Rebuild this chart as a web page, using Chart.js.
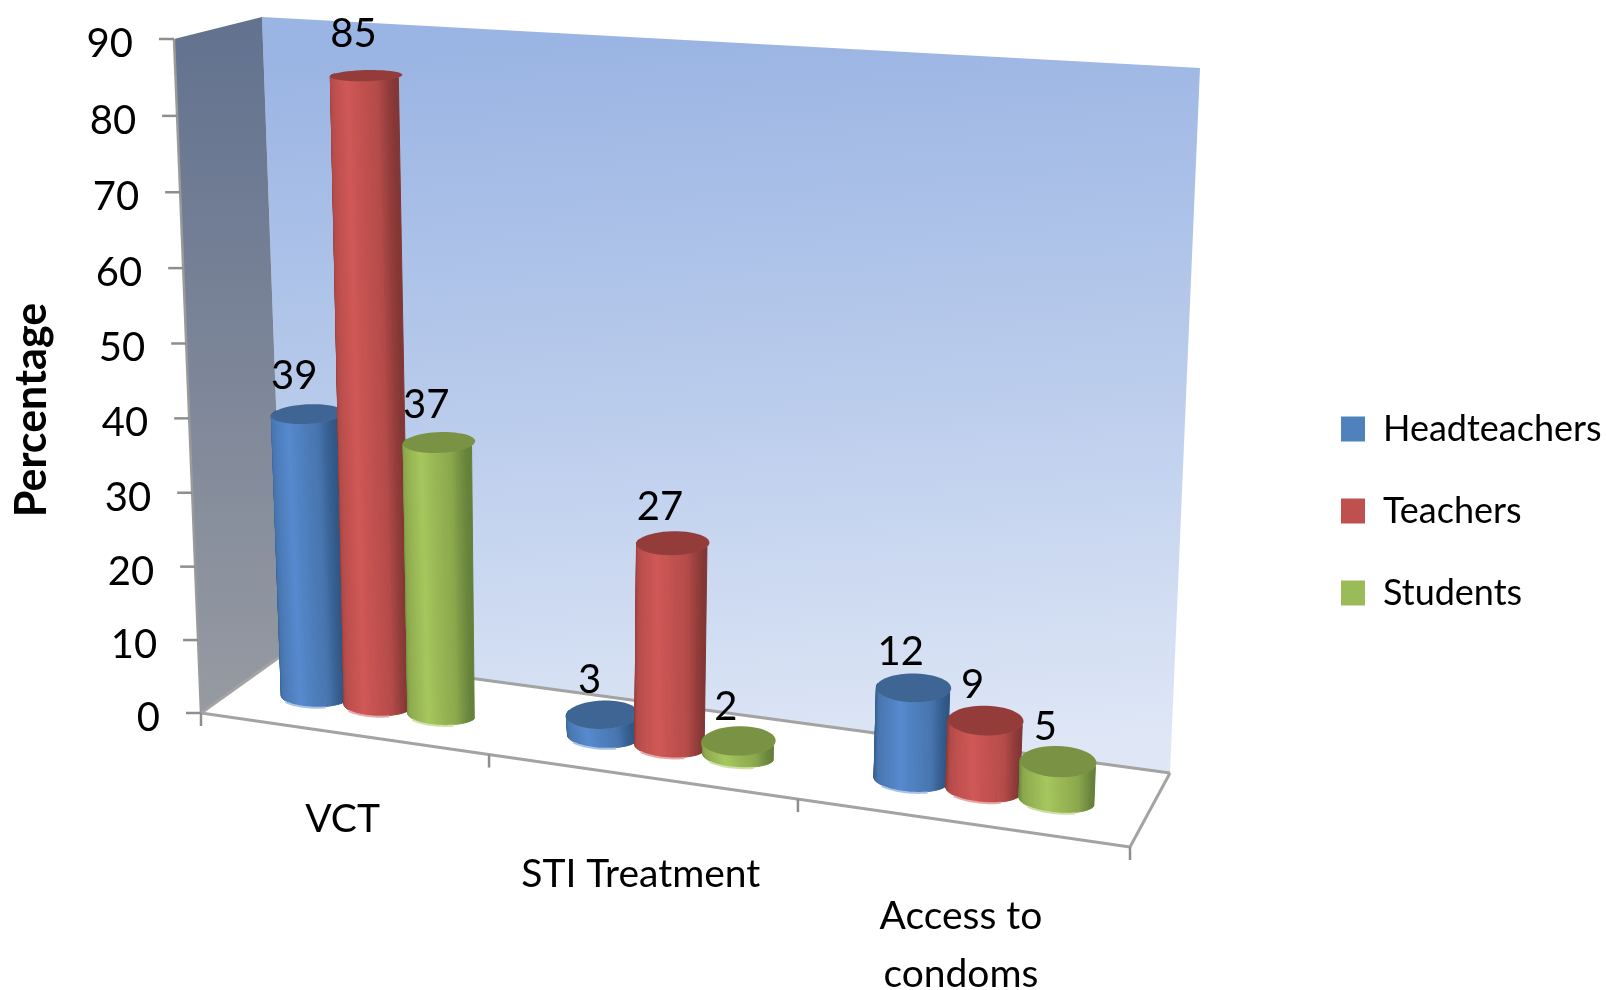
<!DOCTYPE html>
<html>
<head>
<meta charset="utf-8">
<title>Percentage by service</title>
<script src="https://cdn.jsdelivr.net/npm/chart.js@4"></script>
<style>
  html, body { margin: 0; padding: 0; background: #fff; }
  canvas { display: block; }
</style>
</head>
<body>
<canvas id="serviceChart" width="1606" height="990"></canvas>
<script>
const categories = ['VCT', 'STI Treatment', ['Access to', 'condoms']];
const seriesNames = ['Headteachers', 'Teachers', 'Students'];
const headteachers = [39, 3, 12];
const teachers = [85, 27, 9];
const students = [37, 2, 5];
const seriesColors = ['#4F81BD', '#C0504D', '#9BBB59'];

// edge, mid, highlight, lid, rim
const shades = [
  ['#2F5583', '#4775AE', '#5689CE', '#3E6594', '#A9C3E4'],
  ['#833634', '#B54B49', '#D05856', '#943C3A', '#E4A9A8'],
  ['#64803A', '#8BA84C', '#A6C65D', '#7A9243', '#CFDFA8']
];

const fontFamily = 'Lato, "Open Sans", sans-serif';

// screen corners of the plot box: front-left, front-right, back-right, back-left
const floorQuad = [[201, 713], [1130, 847], [1170, 773], [285, 653]];
const ceilQuad = [[174, 39], [1166, 95], [1200, 68], [262, 17]];
const heightWarp = 0.03;
const barDepth = 0.44;
const footRadius = 0.15;
const lidRadius = 0.21;
const topTaper = 0.08;
const xLabelDrop = [86, 98, 94];

// unit square to quad homography
function quadMap(q) {
  const [[x0, y0], [x1, y1], [x2, y2], [x3, y3]] = q;
  const dx1 = x1 - x2, dx2 = x3 - x2, sx = x0 - x1 + x2 - x3;
  const dy1 = y1 - y2, dy2 = y3 - y2, sy = y0 - y1 + y2 - y3;
  const den = dx1 * dy2 - dx2 * dy1;
  const g = (sx * dy2 - dx2 * sy) / den;
  const h = (dx1 * sy - sx * dy1) / den;
  const a = x1 - x0 + g * x1, b = x3 - x0 + h * x3;
  const d = y1 - y0 + g * y1, e = y3 - y0 + h * y3;
  return (u, v) => {
    const w = g * u + h * v + 1;
    return [(a * u + b * v + x0) / w, (d * u + e * v + y0) / w];
  };
}
const floorMap = quadMap(floorQuad);
const ceilMap = quadMap(ceilQuad);

// u across the axis, d into the depth, t up the value axis, all 0..1
function project(u, d, t) {
  const tt = t / (1 + heightWarp * (1 - t));
  const f = floorMap(u, d);
  const c = ceilMap(u, d);
  return [f[0] + (c[0] - f[0]) * tt, f[1] + (c[1] - f[1]) * tt];
}

function polygon(ctx, pts) {
  ctx.beginPath();
  pts.forEach((p, i) => i ? ctx.lineTo(p[0], p[1]) : ctx.moveTo(p[0], p[1]));
  ctx.closePath();
}

function line(ctx, a, b, color, width) {
  ctx.strokeStyle = color;
  ctx.lineWidth = width;
  ctx.beginPath();
  ctx.moveTo(a[0], a[1]);
  ctx.lineTo(b[0], b[1]);
  ctx.stroke();
}

function rgb(hex) {
  return [1, 3, 5].map(i => parseInt(hex.slice(i, i + 2), 16));
}

// body colour across the cylinder, f runs 0..1 from left to right
function bodyColor(shade, f) {
  const stops = [[0, shade[0]], [0.12, shade[1]], [0.48, shade[2]], [0.86, shade[1]], [1, shade[0]]];
  let i = 0;
  while (i < stops.length - 2 && f > stops[i + 1][0]) i++;
  const k = (f - stops[i][0]) / (stops[i + 1][0] - stops[i][0]);
  const a = rgb(stops[i][1]);
  const b = rgb(stops[i + 1][1]);
  return `rgb(${a.map((v, n) => Math.round(v + (b[n] - v) * k)).join(',')})`;
}

function drawBox(chart) {
  const ctx = chart.ctx;
  const back = [project(0, 1, 0), project(1, 1, 0), project(1, 1, 1), project(0, 1, 1)];
  const side = [project(0, 0, 0), project(0, 1, 0), project(0, 1, 1), project(0, 0, 1)];
  const front = [project(0, 0, 0), project(1, 0, 0)];

  let g = ctx.createLinearGradient(690, 30, 740, 770);
  g.addColorStop(0, '#9AB4E3');
  g.addColorStop(0.5, '#BACCEC');
  g.addColorStop(1, '#DFE7F6');
  polygon(ctx, back);
  ctx.fillStyle = g;
  ctx.fill();

  g = ctx.createLinearGradient(0, 30, 0, 710);
  g.addColorStop(0, '#63728F');
  g.addColorStop(1, '#969AA2');
  polygon(ctx, side);
  ctx.fillStyle = g;
  ctx.fill();

  const grey = '#A3A3A3';
  line(ctx, side[3], side[0], '#9A9A9A', 2.5);
  line(ctx, back[0], back[1], grey, 3);
  line(ctx, back[0], side[0], grey, 3);
  line(ctx, back[1], front[1], grey, 3);
  line(ctx, front[0], front[1], grey, 3);
}

function drawAxes(chart) {
  const ctx = chart.ctx;
  const yScale = chart.scales.y;
  const xScale = chart.scales.x;
  const area = chart.chartArea;

  ctx.fillStyle = '#000';
  ctx.font = '40px ' + fontFamily;
  ctx.textAlign = 'right';
  ctx.textBaseline = 'middle';
  yScale.ticks.forEach(tick => {
    const t = (yScale.bottom - yScale.getPixelForValue(tick.value)) / yScale.height;
    const p = project(0, 0, t);
    line(ctx, [p[0] - 15, p[1]], p, '#8E8E8E', 2.5);
    ctx.fillText(tick.label, p[0] - 41, p[1] + 5);
  });

  const labels = xScale.getLabels();
  const step = area.width / labels.length;
  for (let i = 0; i <= labels.length; i++) {
    const p = project(i * step / area.width, 0, 0);
    line(ctx, p, [p[0], p[1] + 13], '#8E8E8E', 2.5);
  }

  ctx.font = '39px ' + fontFamily;
  ctx.textAlign = 'center';
  labels.forEach((label, i) => {
    const u = (xScale.getPixelForValue(i) - area.left) / area.width;
    const p = project(u, 0, 0);
    [].concat(label).forEach((text, n) => {
      ctx.fillText(text, p[0], p[1] + xLabelDrop[i] + n * 58);
    });
  });
}

function drawCylinder(ctx, bar, area, yScale, shade) {
  const u = (bar.x - area.left) / area.width;
  const ruFoot = bar.width / 2 / area.width;
  const t = (yScale.bottom - bar.y) / yScale.height;
  const ruLid = ruFoot * (1 - topTaper * t);
  const foot = a => project(u + ruFoot * Math.cos(a), barDepth + footRadius * Math.sin(a), 0);
  const top = a => project(u + ruLid * Math.cos(a), barDepth + lidRadius * Math.sin(a), t);

  // wall of the cylinder as narrow strips, left to right along the front
  const strips = 40;
  for (let i = 0; i < strips; i++) {
    const a0 = -Math.PI + Math.PI * i / strips;
    const a1 = -Math.PI + Math.PI * (i + 1) / strips;
    const color = bodyColor(shade, (1 + Math.cos((a0 + a1) / 2)) / 2);
    polygon(ctx, [foot(a0), foot(a1), top(a1), top(a0)]);
    ctx.fillStyle = color;
    ctx.strokeStyle = color;
    ctx.lineWidth = 1;
    ctx.fill();
    ctx.stroke();
  }

  const lid = [];
  for (let i = 0; i < 48; i++) lid.push(top(Math.PI * 2 * i / 48));
  polygon(ctx, lid);
  ctx.fillStyle = shade[3];
  ctx.fill();

  // light rim along the foot of the cylinder
  ctx.strokeStyle = shade[4];
  ctx.lineWidth = 2;
  ctx.beginPath();
  for (let i = 0; i <= 16; i++) {
    const p = foot(-Math.PI * (0.72 - 0.44 * i / 16));
    i ? ctx.lineTo(p[0], p[1] + 1) : ctx.moveTo(p[0], p[1] + 1);
  }
  ctx.stroke();
}

const cylinderPlugin = {
  id: 'cylinders',
  afterLayout(chart) {
    chart.legend.left = 1295;
    chart.legend.top = 0;
    chart.legend.bottom = 1022;
  },
  // the flat bars are replaced by their projected cylinders
  beforeDatasetDraw() {
    return false;
  },
  beforeDatasetsDraw(chart) {
    drawBox(chart);
    drawAxes(chart);
  },
  afterDatasetsDraw(chart) {
    const ctx = chart.ctx;
    const area = chart.chartArea;
    const yScale = chart.scales.y;
    chart.data.datasets.forEach((ds, i) => {
      chart.getDatasetMeta(i).data.forEach(bar => {
        drawCylinder(ctx, bar, area, yScale, shades[i]);
      });
    });
    ctx.fillStyle = '#000';
    ctx.font = '40px ' + fontFamily;
    ctx.textAlign = 'center';
    ctx.textBaseline = 'middle';
    chart.data.datasets.forEach((ds, i) => {
      chart.getDatasetMeta(i).data.forEach((bar, j) => {
        const t = (yScale.bottom - bar.y) / yScale.height;
        const p = project((bar.x - area.left) / area.width, barDepth, t);
        ctx.fillText(ds.data[j], p[0] - 13, p[1] - 34 - 8 * t);
      });
    });
  }
};

new Chart(document.getElementById('serviceChart').getContext('2d'), {
  type: 'bar',
  data: {
    labels: categories,
    datasets: [
      { label: seriesNames[0], data: headteachers, backgroundColor: seriesColors[0] },
      { label: seriesNames[1], data: teachers, backgroundColor: seriesColors[1] },
      { label: seriesNames[2], data: students, backgroundColor: seriesColors[2] }
    ]
  },
  options: {
    responsive: false,
    animation: false,
    categoryPercentage: 0.675,
    barPercentage: 1,
    layout: { padding: { left: 2, top: 20, bottom: 190 } },
    scales: {
      x: { display: false },
      y: {
        min: 0,
        max: 90,
        ticks: { stepSize: 10, display: false },
        grid: { display: false },
        border: { display: false },
        title: {
          display: true,
          text: 'Percentage',
          color: '#000',
          font: { family: fontFamily, size: 43, weight: 'bold' }
        }
      }
    },
    plugins: {
      tooltip: { enabled: false },
      legend: {
        position: 'right',
        labels: {
          boxWidth: 24,
          boxHeight: 25,
          padding: 46,
          color: '#000',
          font: { family: fontFamily, size: 36 }
        }
      }
    }
  },
  plugins: [cylinderPlugin]
});
</script>
</body>
</html>
